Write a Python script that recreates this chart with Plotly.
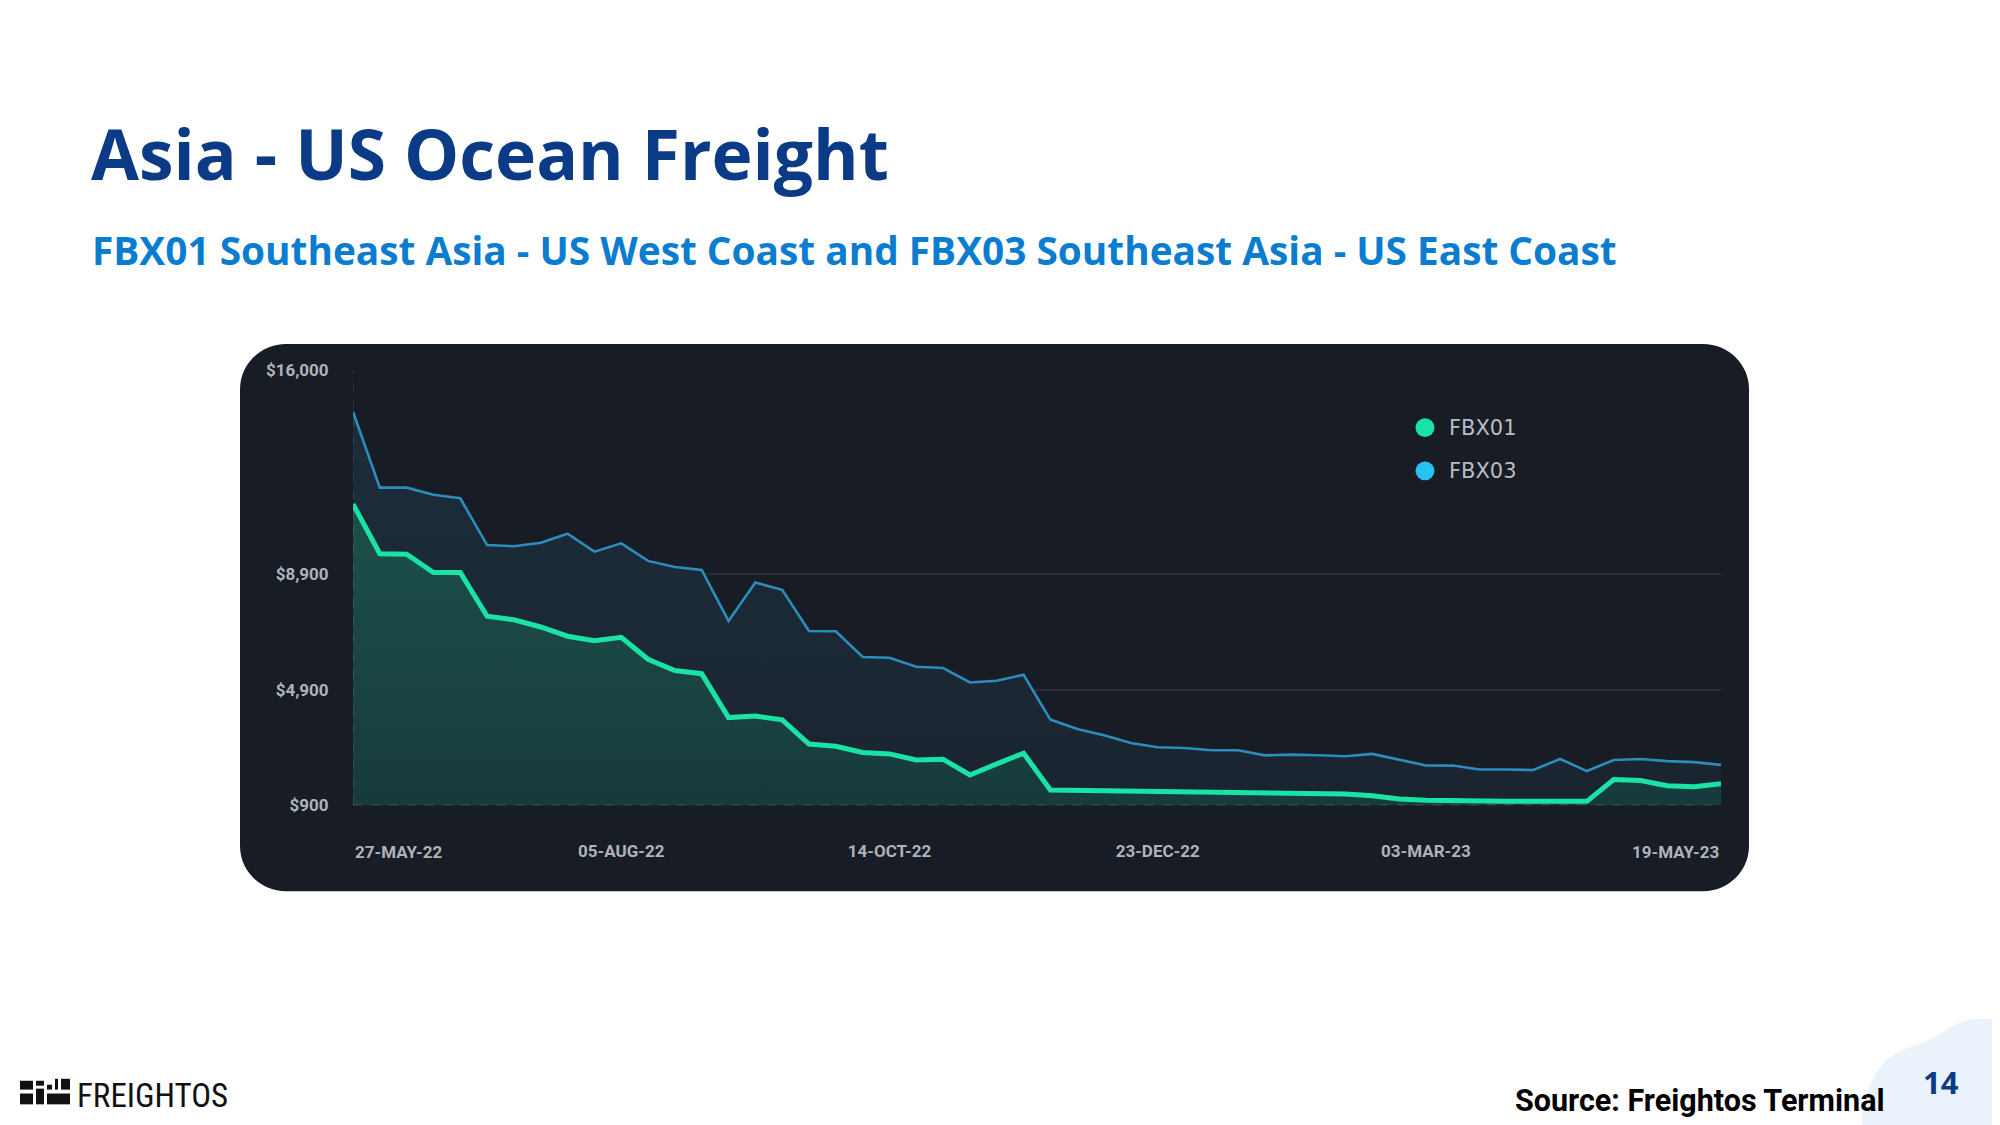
import plotly.graph_objects as go

# ---------------- data ----------------
dates = [
    "2022-05-27", "2022-06-03", "2022-06-10", "2022-06-17", "2022-06-24", "2022-07-01",
    "2022-07-08", "2022-07-15", "2022-07-22", "2022-07-29", "2022-08-05", "2022-08-12",
    "2022-08-19", "2022-08-26", "2022-09-02", "2022-09-09", "2022-09-16", "2022-09-23",
    "2022-09-30", "2022-10-07", "2022-10-14", "2022-10-21", "2022-10-28", "2022-11-04",
    "2022-11-11", "2022-11-18", "2022-11-25", "2022-12-02", "2022-12-09", "2022-12-16",
    "2022-12-23", "2022-12-30", "2023-01-06", "2023-01-13", "2023-01-20", "2023-01-27",
    "2023-02-03", "2023-02-10", "2023-02-17", "2023-02-24", "2023-03-03", "2023-03-10",
    "2023-03-17", "2023-03-24", "2023-03-31", "2023-04-07", "2023-04-14", "2023-04-21",
    "2023-04-28", "2023-05-05", "2023-05-12", "2023-05-19",
]

fbx03 = [
    14540, 11910, 11910, 11660, 11540, 9920, 9880, 10000, 10310, 9690,
    9980, 9370, 9160, 9060, 7290, 8620, 8370, 6940, 6930, 6040,
    6015, 5700, 5655, 5155, 5215, 5425, 3870, 3545, 3325, 3060,
    2910, 2885, 2805, 2805, 2630, 2655, 2635, 2600, 2680, 2470,
    2280, 2275, 2140, 2140, 2120, 2505, 2085, 2470, 2505, 2430,
    2395, 2300,
]

fbx01 = [
    11340, 9620, 9600, 8970, 8970, 7450, 7330, 7080, 6760, 6600,
    6720, 5960, 5570, 5460, 3940, 3990, 3860, 3020, 2945, 2730,
    2680, 2470, 2495, 1950, 2335, 2705, 1430, 1420, 1410, 1405,
    1395, 1385, 1370, 1350, 1330, 1310, 1300, 1290, 1230, 1120,
    1070, 1050, 1045, 1040, 1035, 1035, 1035, 1790, 1760, 1575,
    1540, 1650,
]

series_names = ["FBX01", "FBX03"]

y_tick_vals = [900, 4900, 8900, 16000]
y_tick_text = ["$900", "$4,900", "$8,900", "$16,000"]

x_tick_dates = ["2022-05-27", "2022-08-05", "2022-10-14", "2022-12-23", "2023-03-03", "2023-05-19"]
x_tick_text = ["27-MAY-22", "05-AUG-22", "14-OCT-22", "23-DEC-22", "03-MAR-23", "19-MAY-23"]

title_text = "Asia - US Ocean Freight"
subtitle_text = "FBX01 Southeast Asia - US West Coast and FBX03 Southeast Asia - US East Coast"
source_text = "Source: Freightos Terminal"
page_number = "14"
logo_text = "FREIGHTOS"

# ---------------- styling ----------------
W, H = 2000, 1125
OFF = 8  # the page body margin shifts the figure by 8px; compensate
CARD = "#181c24"
GREEN = "#1ae3a6"
BLUE_LINE = "#2c8cbc"
BLUE_DOT = "#27c3f0"
TICK_COL = "#aeb3bb"


def px(x):
    return (x - OFF) / W


def py(y):
    return 1 - (y - OFF) / H


def rounded_rect(x0, y0, x1, y1, r):
    k = 0.5523 * r

    def P(x, y):
        return f"{px(x):.6f},{py(y):.6f}"
    return (
        f"M {P(x0 + r, y0)} L {P(x1 - r, y0)} "
        f"C {P(x1 - r + k, y0)} {P(x1, y0 + r - k)} {P(x1, y0 + r)} "
        f"L {P(x1, y1 - r)} "
        f"C {P(x1, y1 - r + k)} {P(x1 - r + k, y1)} {P(x1 - r, y1)} "
        f"L {P(x0 + r, y1)} "
        f"C {P(x0 + r - k, y1)} {P(x0, y1 - r + k)} {P(x0, y1 - r)} "
        f"L {P(x0, y0 + r)} "
        f"C {P(x0, y0 + r - k)} {P(x0 + r - k, y0)} {P(x0 + r, y0)} Z"
    )


fig = go.Figure()

fig.add_trace(go.Scatter(
    x=dates, y=fbx03, name=series_names[1], mode="lines",
    line=dict(color=BLUE_LINE, width=2.6),
    fill="tozeroy",
    fillgradient=dict(type="vertical", start=900, stop=14540,
                      colorscale=[[0, "#1a2430"], [1, "#1c2d3c"]]),
    showlegend=False, hoverinfo="x+y",
))
fig.add_trace(go.Scatter(
    x=dates, y=fbx01, name=series_names[0], mode="lines",
    line=dict(color=GREEN, width=5),
    fill="tozeroy",
    fillgradient=dict(type="vertical", start=900, stop=11340,
                      colorscale=[[0, "#173a3c"], [1, "#1c5049"]]),
    showlegend=False, hoverinfo="x+y",
))

shapes = []
# card background
shapes.append(dict(type="path", xref="paper", yref="paper",
                   path=rounded_rect(240, 340, 1749, 897, 46),
                   fillcolor=CARD, line=dict(width=0), layer="below"))
# dashed baseline and left axis line
shapes.append(dict(type="line", xref="x", yref="y", x0=dates[0], x1=dates[-1],
                   y0=y_tick_vals[0], y1=y_tick_vals[0],
                   line=dict(color="rgba(200,205,215,0.28)", width=1.5, dash="dash"),
                   layer="above"))
shapes.append(dict(type="line", xref="x", yref="y", x0=dates[0], x1=dates[0],
                   y0=y_tick_vals[0], y1=y_tick_vals[-1],
                   line=dict(color="rgba(200,205,215,0.18)", width=1.5, dash="dash"),
                   layer="above"))
# legend dots
for cy, col in [(425, GREEN), (469, BLUE_DOT)]:
    r = 9.5
    shapes.append(dict(type="circle", xref="paper", yref="paper",
                       x0=px(1425 - r), x1=px(1425 + r), y0=py(cy + r), y1=py(cy - r),
                       fillcolor=col, line=dict(width=0)))
# light blue blob bottom right
blob = (f"M {px(1862):.5f},{py(1140):.5f} L {px(1862):.5f},{py(1125):.5f} "
        f"C {px(1868):.5f},{py(1090):.5f} {px(1880):.5f},{py(1068):.5f} {px(1905):.5f},{py(1058):.5f} "
        f"C {px(1925):.5f},{py(1051):.5f} {px(1935):.5f},{py(1046):.5f} {px(1950):.5f},{py(1036):.5f} "
        f"C {px(1968):.5f},{py(1024):.5f} {px(1985):.5f},{py(1026):.5f} {px(2010):.5f},{py(1030):.5f} "
        f"L {px(2010):.5f},{py(1140):.5f} Z")
shapes.append(dict(type="path", xref="paper", yref="paper", path=blob,
                   fillcolor="#eaf3fc", line=dict(width=0), layer="below"))
# freightos logo blocks
logo_blocks = [
    (20, 1090, 33, 1099), (20, 1103, 33, 1114),
    (36, 1090, 44, 1095), (36, 1098, 44, 1114),
    (47, 1094, 52, 1099), (55, 1088, 58, 1099), (61, 1088, 70, 1099),
    (47, 1103, 70, 1114),
]
for (a, b, c, d) in logo_blocks:
    shapes.append(dict(type="rect", xref="paper", yref="paper",
                       x0=px(a), x1=px(c), y0=py(d), y1=py(b),
                       fillcolor="#111111", line=dict(width=0)))

annotations = []
annotations.append(dict(text=f"<b>{title_text}</b>", xref="paper", yref="paper",
                        x=px(89), y=py(145), xanchor="left", yanchor="middle",
                        showarrow=False,
                        font=dict(family="Open Sans", size=69.5, color="#0b3a87")))
annotations.append(dict(text=f"<b>{subtitle_text}</b>", xref="paper", yref="paper",
                        x=px(90), y=py(244), xanchor="left", yanchor="middle",
                        showarrow=False,
                        font=dict(family="Open Sans", size=38.8, color="#0a7dd0")))
# legend texts
for cy, name in [(425, series_names[0]), (469, series_names[1])]:
    annotations.append(dict(text=name, xref="paper", yref="paper",
                            x=px(1447), y=py(cy), xanchor="left", yanchor="middle",
                            showarrow=False,
                            font=dict(family="DejaVu Sans", size=21, color="#b9bdc5")))
# end x-axis labels (aligned inside like the reference)
annotations.append(dict(text=f"<b>{x_tick_text[0]}</b>", xref="x", yref="paper",
                        x=x_tick_dates[0], y=py(857), xanchor="left", yanchor="middle",
                        showarrow=False, font=dict(family="Roboto", size=17, color=TICK_COL)))
annotations.append(dict(text=f"<b>{x_tick_text[-1]}</b>", xref="x", yref="paper",
                        x=x_tick_dates[-1], y=py(857), xanchor="right", yanchor="middle",
                        showarrow=False, font=dict(family="Roboto", size=17, color=TICK_COL)))
# footer
annotations.append(dict(text=f"<b>{source_text}</b>", xref="paper", yref="paper",
                        x=px(1887), y=py(1110), xanchor="right", yanchor="middle",
                        showarrow=False, font=dict(family="Roboto", size=30.5, color="#000000")))
annotations.append(dict(text=f"<b>{page_number}</b>", xref="paper", yref="paper",
                        x=px(1941), y=py(1091), xanchor="center", yanchor="middle",
                        showarrow=False, font=dict(family="Open Sans", size=31, color="#0b3a87")))
annotations.append(dict(text=logo_text, xref="paper", yref="paper",
                        x=px(75), y=py(1105), xanchor="left", yanchor="middle",
                        showarrow=False,
                        font=dict(family="Liberation Sans Narrow, Roboto Condensed, Roboto",
                                  size=33, color="#111111")))

fig.update_layout(
    width=W, height=H,
    margin=dict(l=0, r=0, t=0, b=0),
    paper_bgcolor="white",
    plot_bgcolor="rgba(0,0,0,0)",
    shapes=shapes,
    annotations=annotations,
    showlegend=False,
    xaxis=dict(
        domain=[px(353), px(1721)],
        type="date",
        range=[dates[0], dates[-1]],
        tickvals=x_tick_dates[1:-1],
        ticktext=[f"<b>{t}</b>" for t in x_tick_text[1:-1]],
        tickfont=dict(family="Roboto", size=17, color=TICK_COL),
        ticks="outside", ticklen=30, tickcolor="rgba(0,0,0,0)",
        showgrid=False, zeroline=False, showline=False,
    ),
    yaxis=dict(
        domain=[py(809.5), py(366)],
        range=[y_tick_vals[0], y_tick_vals[-1]],
        tickvals=y_tick_vals,
        ticktext=[f"<b>{t}</b>" for t in y_tick_text],
        tickfont=dict(family="Roboto", size=17, color=TICK_COL),
        ticks="outside", ticklen=20, tickcolor="rgba(0,0,0,0)",
        showgrid=True, gridcolor="rgba(255,255,255,0.07)", gridwidth=1.5,
        zeroline=False, showline=False,
    ),
)

fig.write_html("out.html")
